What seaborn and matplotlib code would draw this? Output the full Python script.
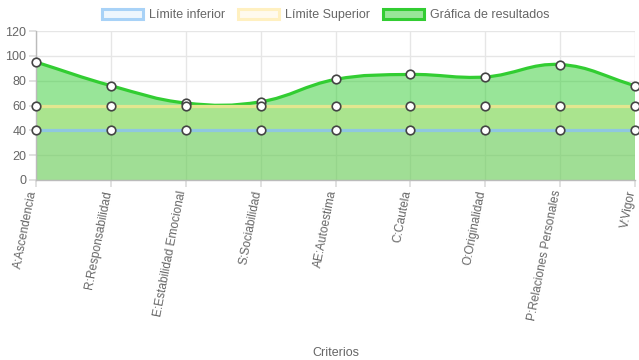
import matplotlib
matplotlib.use('Agg')
import matplotlib.pyplot as plt
from matplotlib.path import Path
from matplotlib.patches import PathPatch, Patch
import seaborn as sns
import numpy as np
import pandas as pd

criterios = ['A:Ascendencia', 'R:Responsabilidad', 'E:Estabilidad Emocional',
             'S:Sociabilidad', 'AE:Autoestima', 'C:Cautela', 'O:Originalidad',
             'P:Relaciones Personales', 'V:Vigor']
limite_inferior = [40, 40, 40, 40, 40, 40, 40, 40, 40]
limite_superior = [60, 60, 60, 60, 60, 60, 60, 60, 60]
resultados = [95, 76, 62, 63, 81, 85, 83, 93, 76]

sns.set_theme(style='whitegrid')
plt.rcParams['font.family'] = ['Liberation Sans', 'DejaVu Sans']

green = '#32cd32'
blue_line = '#8fc7e0'
yellow_line = '#e3e68f'
grey = '#666666'

df = pd.DataFrame({'x': range(len(criterios)), 'inf': limite_inferior,
                   'sup': limite_superior, 'res': resultados})

fig = plt.figure(figsize=(6.39, 3.6), dpi=100)
ax = fig.add_axes([36 / 639, 0.5, 599 / 639, 149 / 360])
ax.set_xlim(0, len(criterios) - 1)
ax.set_ylim(0, 120)


def bezier_path(xs, ys, tension=0.4):
    # chart.js style spline, control points worked out in pixel space
    pts = ax.transData.transform(np.column_stack([xs, ys]))
    n = len(pts)
    verts = [pts[0]]
    codes = [Path.MOVETO]
    ctrl = []
    for i in range(n):
        p0 = pts[max(i - 1, 0)]
        p1 = pts[i]
        p2 = pts[min(i + 1, n - 1)]
        d01 = np.hypot(*(p1 - p0))
        d12 = np.hypot(*(p2 - p1))
        tot = d01 + d12 if d01 + d12 else 1
        fa = tension * d01 / tot
        fb = tension * d12 / tot
        ctrl.append((p1 - fa * (p2 - p0), p1 + fb * (p2 - p0)))
    for i in range(1, n):
        verts += [ctrl[i - 1][1], ctrl[i][0], pts[i]]
        codes += [Path.CURVE4] * 3
    inv = ax.transData.inverted()
    return inv.transform(np.array(verts)), codes


verts, codes = bezier_path(df['x'].values, df['res'].values)
fill_verts = np.vstack([[[0, 0]], verts, [[len(criterios) - 1, 0]], [[0, 0]]])
fill_codes = [Path.MOVETO, Path.LINETO] + codes[1:] + [Path.LINETO, Path.CLOSEPOLY]
ax.add_patch(PathPatch(Path(fill_verts, fill_codes), facecolor=green, alpha=0.5,
                       edgecolor='none', zorder=1))
ax.fill_between(df['x'], 0, df['sup'], color='#ffe066', alpha=0.18, lw=0, zorder=1.2)
ax.fill_between(df['x'], 0, df['inf'], color='#36a2eb', alpha=0.08, lw=0, zorder=1.3)
ax.add_patch(PathPatch(Path(verts, codes), facecolor='none', edgecolor=green,
                       lw=2.3, zorder=3, capstyle='round'))

sns.lineplot(data=df, x='x', y='sup', ax=ax, color=yellow_line, lw=2.3, zorder=3)
sns.lineplot(data=df, x='x', y='inf', ax=ax, color=blue_line, lw=2.3, zorder=3)
for col in ['res', 'sup', 'inf']:
    sns.scatterplot(data=df, x='x', y=col, ax=ax, s=38, color='white',
                    edgecolor='#444444', linewidth=1.2, zorder=5, clip_on=False)

ax.set_xticks(df['x'])
ax.set_xticklabels(criterios, rotation=79, ha='right', va='baseline',
                   rotation_mode='anchor', fontsize=8.6, color=grey)
ax.set_yticks(range(0, 121, 20))
ax.tick_params(axis='y', labelsize=9, labelcolor=grey, length=5, color='#dddddd',
               pad=2, left=True)
ax.tick_params(axis='x', length=5, color='#dddddd', pad=3, bottom=True)
ax.grid(True, color='#e6e6e6', lw=1)
for s in ['top', 'right']:
    ax.spines[s].set_visible(False)
for s in ['left', 'bottom']:
    ax.spines[s].set_color('#bbbbbb')
    ax.spines[s].set_linewidth(1)
ax.set_xlabel('Criterios', fontsize=9, color=grey)
ax.xaxis.set_label_coords(0.5, -1.12)
ax.set_ylabel('')

handles = [Patch(facecolor='#eef6fd', edgecolor='#a8d2f7', lw=2.2, label='Límite inferior'),
           Patch(facecolor='#fffaee', edgecolor='#fff0c0', lw=2.2, label='Límite Superior'),
           Patch(facecolor='#98e698', edgecolor=green, lw=2.2, label='Gráfica de resultados')]
leg = fig.legend(handles=handles, loc='upper center', bbox_to_anchor=(0.51, 1.0),
                 ncol=3, frameon=False, fontsize=9, handlelength=3.3, handleheight=0.9,
                 handletextpad=0.5, columnspacing=1.0, borderaxespad=0.3)
for t in leg.get_texts():
    t.set_color(grey)

fig.savefig('out.png', dpi=100)
